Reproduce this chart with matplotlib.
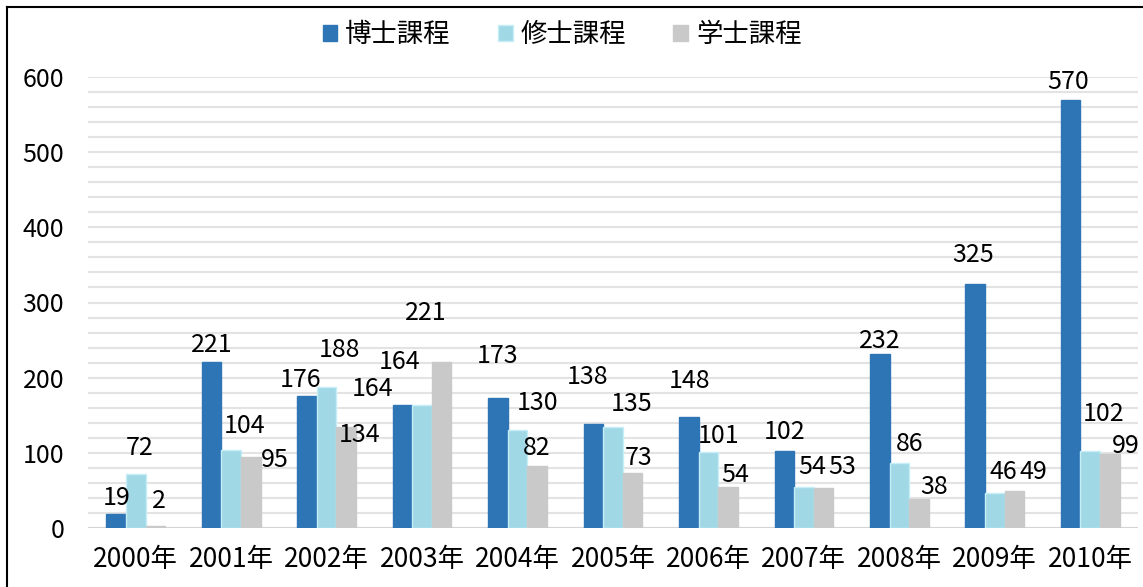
import numpy as np
import matplotlib
matplotlib.use("Agg")
import matplotlib.pyplot as plt
from matplotlib.lines import Line2D

plt.rcParams["font.family"] = ["Noto Sans CJK JP", "DejaVu Sans"]

# Chart data
years = ["2000年", "2001年", "2002年", "2003年", "2004年", "2005年",
         "2006年", "2007年", "2008年", "2009年", "2010年"]
series_names = ["博士課程", "修士課程", "学士課程"]
doctor = [19, 221, 176, 164, 173, 138, 148, 102, 232, 325, 570]
master = [72, 104, 188, 164, 130, 135, 101, 54, 86, 46, 102]
bachelor = [2, 95, 134, 221, 82, 73, 54, 53, 38, 49, 99]

colors = ["#2e75b6", "#a0d8e5", "#c9c9c9"]
edges = ["#2e75b6", "#c6eef6", "#c9c9c9"]

# Label placement (pixel offsets from top of each bar: dx, dy up)
label_off = [
    [(0, 16), (0, 17), (-7, 16), (-30, 16), (0, 42), (-6, 47),
     (1, 36), (0, 19), (0, 13), (-2, 29), (-3, 18)],
    [(4, 26), (13, 24), (13, 37), (-23, 43), (20, 27), (19, 23),
     (10, 16), (8, 20), (10, 19), (9, 21), (13, 37)],
    [(4, 25), (24, -3), (13, -8), (-16, 49), (0, 18), (6, 15),
     (7, 12), (19, 21), (15, 12), (19, 19), (16, 8)],
]

fig = plt.figure(figsize=(11.43, 5.87), dpi=100)
ax = fig.add_axes([88 / 1143, 59 / 587, 1050 / 1143, 451 / 587])

x = np.arange(len(years))
w = 0.205
all_series = [doctor, master, bachelor]
bars = []
for i, vals in enumerate(all_series):
    b = ax.bar(x + (i - 1) * w, vals, w, color=colors[i], edgecolor=edges[i],
               linewidth=1, label=series_names[i], zorder=3)
    bars.append(b)
    for j, v in enumerate(vals):
        dx, dy = label_off[i][j]
        ax.annotate(str(v), (x[j] + (i - 1) * w, v), xytext=(dx, dy),
                    textcoords="offset pixels", ha="center", va="center",
                    fontsize=18, color="black", zorder=5)

ax.set_xlim(-0.5, len(years) - 0.5)
ax.set_ylim(0, 600)
ax.set_yticks(range(0, 601, 100))
ax.set_yticks(range(0, 601, 20), minor=True)
ax.grid(axis="y", which="both", color="#e3e3e3", linewidth=1.5, zorder=0)
ax.set_xticks(x)
ax.set_xticklabels(years, fontsize=19)
ax.tick_params(axis="both", which="both", length=0)
ax.tick_params(axis="y", labelsize=18, pad=17)
ax.tick_params(axis="x", pad=13)
for s in ax.spines.values():
    s.set_visible(False)
ax.axhline(0, color="#d4d4d4", linewidth=1.5, zorder=2)

fig.legend(handles=bars, labels=series_names, loc="center",
           bbox_to_anchor=(562 / 1143, 1 - 35 / 587), ncol=3, frameon=False,
           fontsize=19, handlelength=0.55, handleheight=0.55, handletextpad=0.3,
           columnspacing=1.8)

# Outer frame (left and top edges)
fig.add_artist(Line2D([7 / 1143, 7 / 1143], [0, 1 - 7 / 587],
                      transform=fig.transFigure, color="black", lw=1.5))
fig.add_artist(Line2D([7 / 1143, 1], [1 - 7 / 587, 1 - 7 / 587],
                      transform=fig.transFigure, color="black", lw=1.5))

fig.savefig("out.png", dpi=100)
